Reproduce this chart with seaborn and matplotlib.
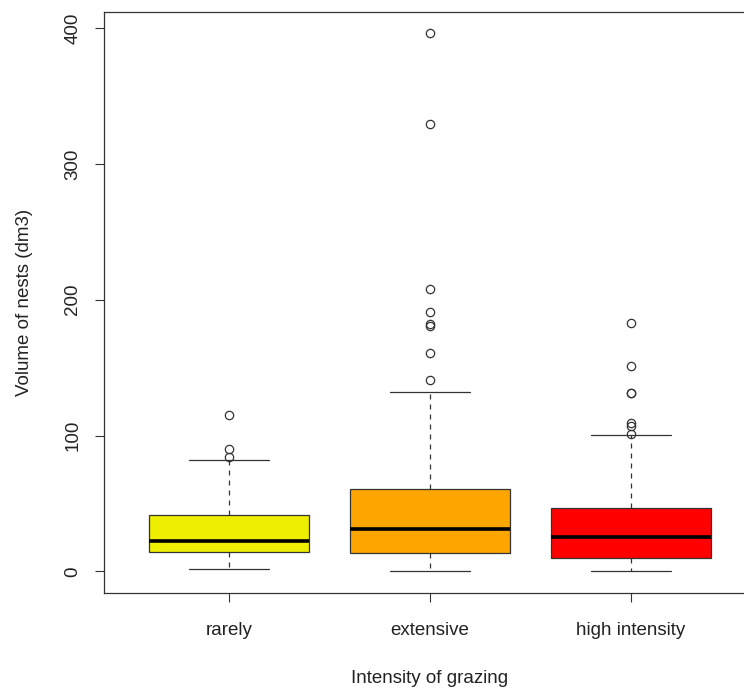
import matplotlib
matplotlib.use("Agg")
import matplotlib.pyplot as plt
import seaborn as sns
import pandas as pd

GROUPS = ["rarely", "extensive", "high intensity"]
COLORS = ["#EEEE00", "#FFA500", "#FF0000"]

rarely = [1.5, 4.0, 7.0, 10.0, 12.0, 14.5, 16.0, 18.0, 19.5, 21.0, 22.7,
          25.0, 28.0, 31.0, 36.0, 41.7, 55.0, 82.3, 84.0, 90.0, 115.0]

extensive = [0.2, 1.0, 2.5, 4.0, 5.0, 6.5, 8.0, 9.5, 11.0, 12.5, 13.5,
             15.0, 16.5, 18.0, 20.0, 22.0, 24.0, 26.0, 28.0, 30.0, 31.4,
             33.0, 35.0, 38.0, 41.0, 44.0, 47.0, 50.0, 54.0, 58.0, 61.0,
             78.0, 132.0, 141.0, 161.0, 181.0, 182.0, 191.0, 208.0, 329.0, 396.0]

high_intensity = [0.2, 1.2, 2.1, 3.4, 4.0, 5.3, 6.1, 7.4, 8.2, 9.1, 10.0,
                  11.5, 13.0, 14.5, 16.0, 18.0, 19.5, 21.0, 22.5, 24.0, 25.3,
                  27.0, 29.0, 31.0, 33.0, 35.0, 37.0, 39.0, 41.5, 44.0, 46.5,
                  62.0, 80.0, 100.5, 101.5, 107.3, 109.2, 131.0, 131.5, 151.0, 183.0]

Y_TICKS = [0, 100, 200, 300, 400]

sns.set_style("white")
plt.rcParams["font.family"] = ["Liberation Sans", "DejaVu Sans"]


def build_frame():
    rows = []
    for name, values in zip(GROUPS, [rarely, extensive, high_intensity]):
        for v in values:
            rows.append({"grazing": name, "volume": v})
    return pd.DataFrame(rows)


def main():
    df = build_frame()
    line = "#333333"
    text = "#222222"
    fs = 13.5

    fig = plt.figure(figsize=(7.44, 6.88), dpi=100)
    ax = fig.add_axes([0.1403, 0.1381, 0.8753, 0.8445])

    sns.boxplot(data=df, x="grazing", y="volume", hue="grazing", order=GROUPS,
                hue_order=GROUPS, palette=COLORS, saturation=1, legend=False,
                width=0.8, whis=1.5, linewidth=0.9, linecolor=line, fliersize=6,
                ax=ax,
                boxprops=dict(edgecolor=line, linewidth=0.9),
                whiskerprops=dict(color=line, linewidth=0.9, linestyle=(0, (4, 4))),
                capprops=dict(color=line, linewidth=0.9),
                medianprops=dict(color="black", linewidth=2.6),
                flierprops=dict(marker="o", markerfacecolor="none",
                                markeredgecolor=line, markeredgewidth=0.9))

    ax.set_xlim(-0.62, 2.62)
    ax.set_ylim(-15.84, 411.8)
    ax.set_yticks(Y_TICKS)
    ax.set_yticklabels([str(t) for t in Y_TICKS], rotation=90, va="center")

    for side in ["left", "bottom", "top", "right"]:
        ax.spines[side].set_visible(True)
        ax.spines[side].set_color(line)
        ax.spines[side].set_linewidth(0.9)

    ax.tick_params(axis="both", direction="out", length=6.5, width=0.8,
                   color=line, labelsize=fs, labelcolor=text,
                   bottom=True, left=True, top=False, right=False)
    ax.tick_params(axis="x", pad=14.5)
    ax.tick_params(axis="y", pad=10)

    ax.set_xlabel("Intensity of grazing", fontsize=fs, color=text, labelpad=22)
    ax.set_ylabel("Volume of nests (dm3)", fontsize=fs, color=text, labelpad=23)

    fig.savefig("out.png", dpi=100)


if __name__ == "__main__":
    main()
